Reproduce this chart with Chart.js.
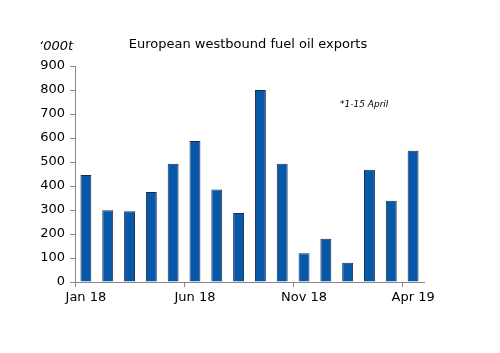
<!DOCTYPE html>
<html>
<head>
<meta charset="utf-8">
<script src="https://cdn.jsdelivr.net/npm/chart.js@4"></script>
<style>
  html, body { margin: 0; padding: 0; background: #fff; }
  #wrap { width: 500px; height: 353px; }
</style>
</head>
<body>
<div id="wrap"><canvas id="CHARTEXPORTS"></canvas></div>
<script>
const months = ['Jan 18', 'Feb 18', 'Mar 18', 'Apr 18', 'May 18', 'Jun 18', 'Jul 18', 'Aug 18',
  'Sep 18', 'Oct 18', 'Nov 18', 'Dec 18', 'Jan 19', 'Feb 19', 'Mar 19', 'Apr 19'];
const exportsKt = [446, 299, 295, 375, 493, 588, 385, 287, 800, 493, 120, 180, 80, 468, 339, 547];
const yTicks = [0, 100, 200, 300, 400, 500, 600, 700, 800, 900];

const FONT = 'DejaVu Sans';

// title, unit label and footnote drawn straight on the canvas
const extraText = {
  id: 'extraText',
  afterDraw(chart) {
    const c = chart.ctx;
    c.save();
    c.fillStyle = '#000';
    c.textBaseline = 'middle';
    c.textAlign = 'center';
    c.font = '13px "' + FONT + '"';
    c.fillText('European westbound fuel oil exports', 248, 45);
    c.textAlign = 'left';
    c.font = 'italic 13px "' + FONT + '"';
    c.fillText('\u2018000t', 39, 47);
    c.font = 'italic 9px "' + FONT + '"';
    c.fillText('*1-15 April', 340, 105);
    c.restore();
  }
};

const ctx = document.getElementById('CHARTEXPORTS');

new Chart(ctx, {
  type: 'bar',
  data: {
    labels: months,
    datasets: [{
      label: 'European westbound fuel oil exports',
      data: exportsKt,
      backgroundColor: '#0758A8',
      borderColor: '#1c2c50',
      borderWidth: 1,
      barPercentage: 0.5,
      categoryPercentage: 1
    }]
  },
  options: {
    responsive: true,
    maintainAspectRatio: false,
    animation: false,
    layout: { padding: { left: 0, right: 76, top: 66, bottom: 41 } },
    plugins: { legend: { display: false }, tooltip: { enabled: false } },
    scales: {
      x: {
        offset: true,
        grid: {
          display: true,
          offset: true,
          drawOnChartArea: false,
          tickLength: 5,
          color: (c) => (c.index % 5 === 0 ? '#888' : 'rgba(0,0,0,0)')
        },
        border: { color: '#888' },
        afterFit: (s) => { s.height = 30; },
        ticks: {
          autoSkip: false,
          maxRotation: 0,
          color: '#000',
          padding: 3,
          font: { family: FONT, size: 13 },
          callback: function (v, i) { return i % 5 === 0 ? months[i] : ''; }
        }
      },
      y: {
        min: 0,
        max: 900,
        afterFit: (s) => { s.width = 75; },
        afterBuildTicks: (s) => { s.ticks = yTicks.map(v => ({ value: v })); },
        grid: { display: true, drawOnChartArea: false, tickLength: 5, color: '#888' },
        border: { color: '#888' },
        ticks: {
          color: '#000',
          padding: 5,
          font: { family: FONT, size: 13 }
        }
      }
    }
  },
  plugins: [extraText]
});
</script>
</body>
</html>
